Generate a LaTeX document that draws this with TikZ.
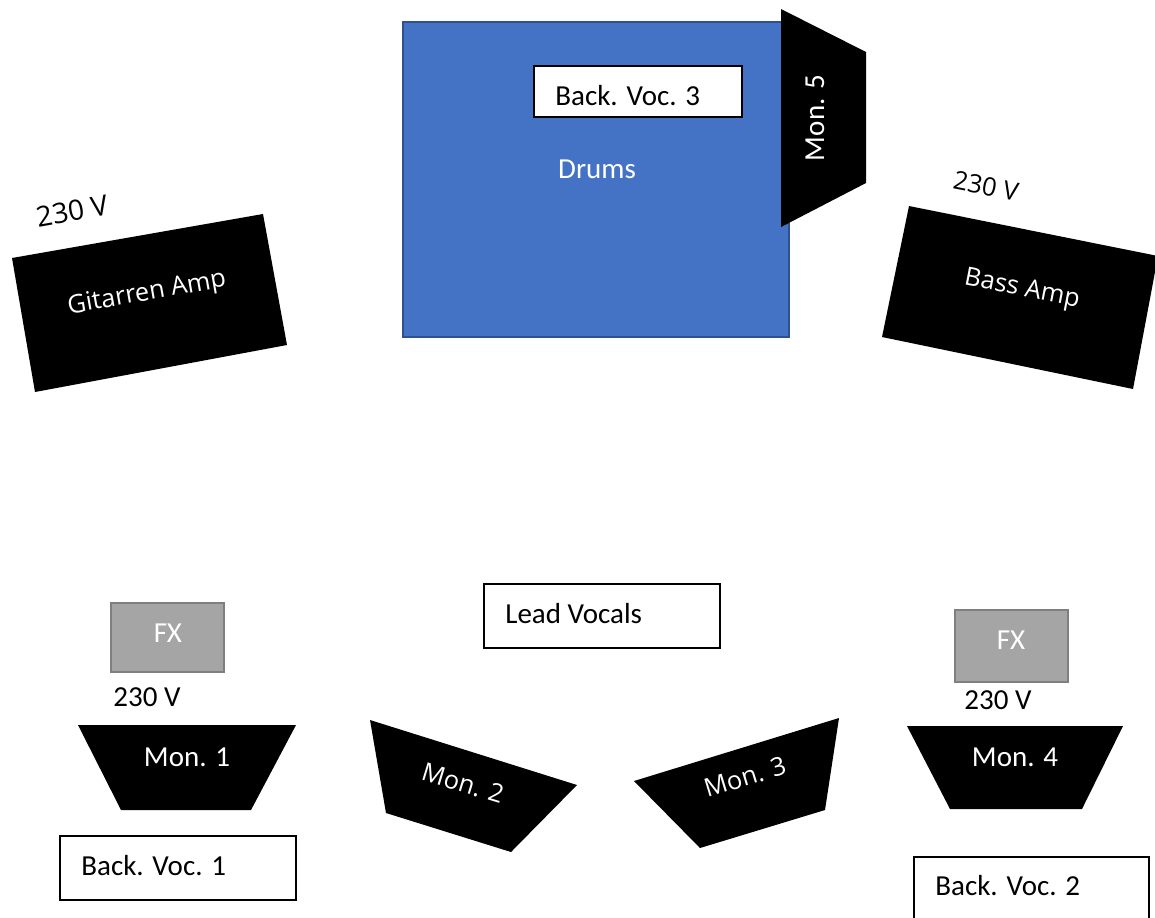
\documentclass[tikz,border=0pt]{standalone}
\usepackage{fontspec}
\setmainfont{Carlito}
\newfontfamily\ampfont{Open Sans}
\definecolor{drumblue}{HTML}{4472C4}
\definecolor{drumedge}{HTML}{2F528F}
\definecolor{fxgray}{HTML}{A5A5A5}
\definecolor{fxedge}{HTML}{7F7F7F}

\tikzset{
  txt/.style={font=\fontsize{16.5}{19}\selectfont, inner sep=0pt},
  wtxt/.style={txt, text=white},
  rtxt/.style={font=\ampfont\fontsize{14.5}{17}\selectfont, inner sep=0pt},
  wrtxt/.style={rtxt, text=white},
  monitor/.style={fill=black, draw=none},
  voicebox/.style={draw=black, line width=0.6pt, fill=white},
  fxbox/.style={draw=fxedge, line width=1.2pt, fill=fxgray}
}

\begin{document}
\begin{tikzpicture}[x=0.02cm,y=-0.02cm]
\useasboundingbox (0,0) rectangle (1155,917);

% drums and riser:
\draw[drumedge, line width=1pt, fill=drumblue] (403,22) rectangle (789,337);
\node[wtxt] (drums) at (597,169) {Drums};
\draw[voicebox] (534,66) rectangle (742,117);
\node[txt, anchor=west] (bv3) at (555,96) {Back. Voc. 3};
\fill[monitor] (781,9) -- (866,52) -- (866,183) -- (781,227) -- cycle;
\node[wtxt, rotate=90] (mon5) at (815,118) {Mon. 5};

% amps:
\fill[black] (12,258) -- (263,214) -- (287,345) -- (35,392) -- cycle;
\node[wrtxt, rotate=10] (gitamp) at (147,294) {Gitarren Amp};
\node[rtxt, rotate=10, font=\ampfont\fontsize{16}{19}\selectfont] (gitpow) at (72,211) {230 V};
\fill[black] (909,206) -- (1158,256) -- (1133,389) -- (882,337) -- cycle;
\node[wrtxt, rotate=-11] (bassamp) at (1022,290) {Bass Amp};
\node[rtxt, rotate=-11] (basspow) at (986,186) {230 V};

% front line:
\draw[voicebox] (484,584) rectangle (720,648);
\node[txt, anchor=west] (lead) at (505,614) {Lead Vocals};

\draw[fxbox] (111,603) rectangle (224,672);
\node[wtxt] (fx1) at (168,633) {FX};
\node[txt] (pow1) at (147,697) {230 V};
\fill[monitor] (78,725) -- (296,725) -- (251,810) -- (121,810) -- cycle;
\node[wtxt] (mon1) at (187,757) {Mon. 1};
\draw[voicebox] (60,836) rectangle (296,900);
\node[txt, anchor=west] (bv1) at (81,866) {Back. Voc. 1};

\fill[monitor] (370,720) -- (577,785) -- (511,852) -- (386,813) -- cycle;
\node[wrtxt, rotate=-17] (mon2) at (463,783) {Mon. 2};
\fill[monitor] (634,781) -- (839,718) -- (825,810) -- (700,848) -- cycle;
\node[wrtxt, rotate=17] (mon3) at (745,777) {Mon. 3};

\draw[fxbox] (955,610) rectangle (1068,682);
\node[wtxt] (fx2) at (1011,640) {FX};
\node[txt] (pow2) at (998,700) {230 V};
\fill[monitor] (907,726) -- (1123,726) -- (1082,809) -- (950,809) -- cycle;
\node[wtxt] (mon4) at (1015,757) {Mon. 4};
\draw[voicebox] (914,857) rectangle (1149,925);
\node[txt, anchor=west] (bv2) at (935,886) {Back. Voc. 2};

\end{tikzpicture}
\end{document}
